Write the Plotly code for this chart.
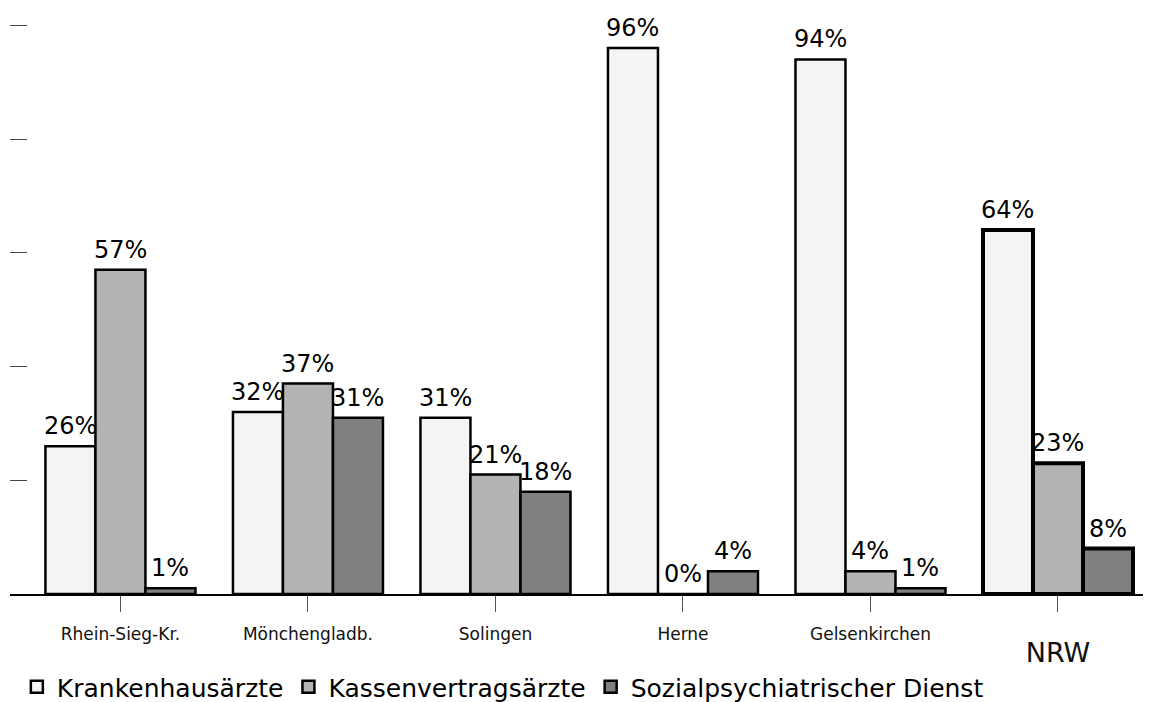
import plotly.graph_objects as go

categories = ["Rhein-Sieg-Kr.", "Mönchengladb.", "Solingen", "Herne", "Gelsenkirchen", "NRW"]
tick_labels = ["Rhein-Sieg-Kr.", "Mönchengladb.", "Solingen", "Herne", "Gelsenkirchen",
               "<span style='font-size:2px'> </span><br><span style='font-size:27px'>NRW</span>"]
series_names = ["Krankenhausärzte", "Kassenvertragsärzte", "Sozialpsychiatrischer Dienst"]
krankenhaus = [26, 32, 31, 96, 94, 64]
kassen = [57, 37, 21, 0, 4, 23]
sozial = [1, 31, 18, 4, 1, 8]
colors = ["#f4f4f4", "#b4b4b4", "#808080"]
line_widths = [2.5, 2.5, 2.5, 2.5, 2.5, 4]

FONT = "DejaVu Sans"
series = [krankenhaus, kassen, sozial]

fig = go.Figure()
for name, vals, col in zip(series_names, series, colors):
    fig.add_trace(go.Bar(
        x=categories, y=vals, name=name,
        marker=dict(color=col, line=dict(color="black", width=line_widths)),
        hoverinfo="skip",
    ))

annotations = []
bar_px = 50
for i, vals in enumerate(series):
    for cat, v in zip(categories, vals):
        annotations.append(dict(
            x=cat, y=v, xref="x", yref="y", text=f"{v}%", showarrow=False,
            xshift=(i - 1) * bar_px, yanchor="bottom", yshift=4,
            font=dict(family=FONT, size=24, color="black"),
        ))

fig.update_layout(
    width=1143, height=702,
    margin=dict(l=2, r=0, t=15, b=115),
    paper_bgcolor="white", plot_bgcolor="white",
    barmode="group", bargap=0.2, bargroupgap=0,
    font=dict(family=FONT, color="black"),
    showlegend=True,
    legend=dict(orientation="h", x=0.006, xanchor="left", y=-0.1626, yanchor="middle",
                font=dict(family=FONT, size=25, color="black"),
                itemwidth=30, traceorder="normal", bgcolor="rgba(0,0,0,0)"),
    annotations=annotations,
    xaxis=dict(
        range=[-0.589, 5.496], showgrid=False, zeroline=False,
        showline=True, linecolor="black", linewidth=1.5,
        ticks="outside", ticklen=16, tickcolor="#555", tickwidth=1,
        tickmode="array", tickvals=categories, ticktext=tick_labels,
        tickfont=dict(family=FONT, size=17, color="#111"),
        ticklabelstandoff=8,
    ),
    yaxis=dict(
        range=[0, 100.4], showgrid=False, zeroline=False, showline=False,
        ticks="inside", ticklen=17, tickcolor="#444", tickwidth=1,
        tickmode="array", tickvals=[0, 20, 40, 60, 80, 100], showticklabels=False,
    ),
)

fig.write_html("out.html")
